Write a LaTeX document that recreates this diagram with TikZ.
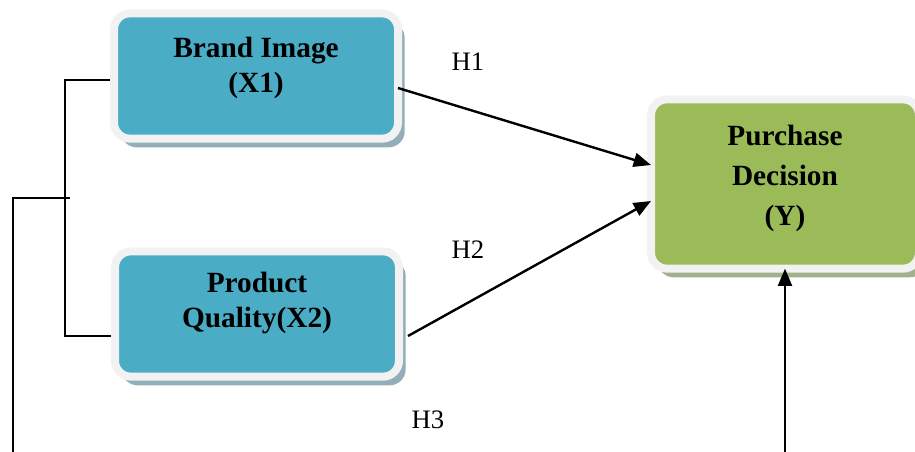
\documentclass[tikz,border=0pt]{standalone}
\usepackage{fontspec}
\setmainfont{Liberation Serif}
\usetikzlibrary{arrows.meta,calc,shadows}
\definecolor{boxblue}{HTML}{4BACC6}
\definecolor{boxgreen}{HTML}{9BBB59}
\definecolor{framegray}{HTML}{F2F2F2}
\definecolor{shadeblue}{HTML}{93AEB8}
\definecolor{shadegreen}{HTML}{A3B08C}

\begin{document}
\begin{tikzpicture}[
        x=0.75pt, y=-0.75pt,
        varbox/.style={rectangle,rounded corners=12pt,draw=framegray,line width=6pt,
            outer sep=0pt,inner sep=0pt},
        indep/.style={varbox,fill=boxblue,minimum width=213pt,minimum height=94pt,
            drop shadow={shadow xshift=5pt,shadow yshift=-6.5pt,fill=shadeblue,opacity=1}},
        dep/.style={varbox,fill=boxgreen,minimum width=201pt,minimum height=127pt,
            drop shadow={shadow xshift=5pt,shadow yshift=-6.5pt,fill=shadegreen,opacity=1}},
        boxtext/.style={align=center,font=\bfseries\fontsize{22}{26.5}\selectfont},
        hyp/.style={font=\fontsize{20}{24}\selectfont},
        path/.style={line width=1.8pt,-{Triangle[length=13pt,width=10.5pt]}},
        link/.style={line width=1pt}
    ]
    \useasboundingbox (0,0) rectangle (915,452);
    \clip (0,0) rectangle (915,452);

    \node[indep] (x1) at (256,76) {};
    \node[indep] (x2) at (257,314) {};
    \node[dep] (y) at (785,184) {};

    \node[boxtext] (x1text) at (256,68) {Brand Image\\(X1)};
    \node[boxtext] (x2text) at (257,303) {Product\\Quality(X2)};
    \node[boxtext,font=\bfseries\fontsize{22}{30}\selectfont] (ytext) at (785,178)
        {Purchase\\Decision\\(Y)};

    \node[hyp] (h1) at (468,62) {H1};
    \node[hyp] (h2) at (468,250) {H2};
    \node[hyp] (h3) at (428,420) {H3};

    % hypothesis paths
    \draw[path] ($(x1.east)+(0,12)$) -- ($(y.west)+(0,-19)$);
    \draw[path] ($(x2.east)+(9,22)$) -- ($(y.west)+(0,17)$);
    \coordinate (h3start) at (785,470);
    \draw[path] (h3start) -- (y.south);

    % bracket round X1 and X2
    \coordinate (join) at (65,198);
    \coordinate (simul) at (13,470);
    \draw[link] ($(x1.west)+(-4,4)$) -| (join) |- ($(x2.west)+(-4,22)$);
    \draw[link] ($(join)+(5,0)$) -- (13,198) -- (simul);
\end{tikzpicture}
\end{document}
